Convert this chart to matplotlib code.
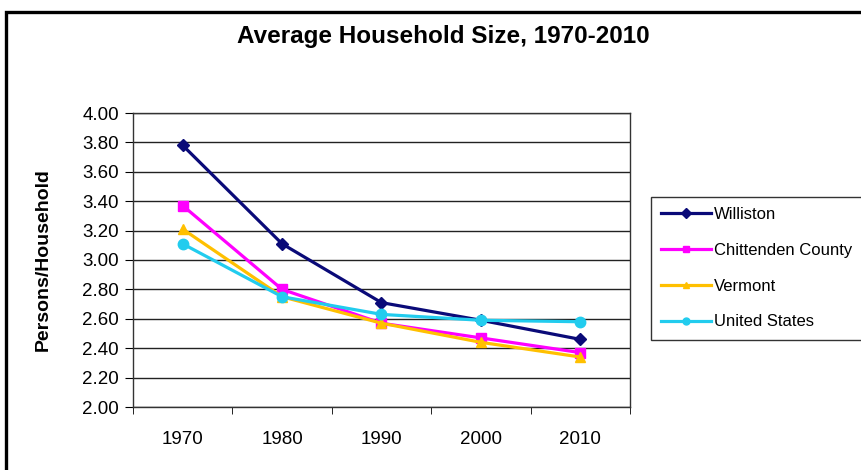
import matplotlib
matplotlib.use('Agg')
import matplotlib.pyplot as plt
from matplotlib.patches import Rectangle

# --- data ---
years = ['1970', '1980', '1990', '2000', '2010']
williston = [3.78, 3.11, 2.71, 2.59, 2.46]
chittenden = [3.37, 2.80, 2.57, 2.47, 2.37]
vermont = [3.21, 2.75, 2.57, 2.44, 2.34]
united_states = [3.11, 2.75, 2.63, 2.59, 2.58]
yticks = [2.00, 2.20, 2.40, 2.60, 2.80, 3.00, 3.20, 3.40, 3.60, 3.80, 4.00]

plt.rcParams['font.family'] = ['Liberation Sans', 'DejaVu Sans']

fig = plt.figure(figsize=(8.62, 4.70), dpi=100)
W, H = 862, 470

# outer chart border (extends past the image on right/bottom)
fig.patches.append(Rectangle((6 / W, -0.1), 1.2, 1 - 12 / H + 0.1,
                             transform=fig.transFigure, fill=False,
                             edgecolor='black', linewidth=2.4))

ax = fig.add_axes([133 / W, 1 - 407 / H, 497 / W, 294 / H])

x = list(range(len(years)))
series = [
    ('Williston', williston, '#0A0A78', 'D', 6.5),
    ('Chittenden County', chittenden, '#FF00FF', 's', 7.5),
    ('Vermont', vermont, '#FFC000', '^', 7.5),
    ('United States', united_states, '#22CCEE', 'o', 7.5),
]
for name, vals, col, mk, ms in series:
    ax.plot(x, vals, color=col, marker=mk, markersize=ms, linewidth=2.3,
            label=name, clip_on=False)

ax.set_xlim(-0.5, len(years) - 0.5)
ax.set_ylim(2.0, 4.0)
ax.set_yticks(yticks)
ax.set_yticklabels([f'{v:.2f}' for v in yticks], fontsize=13.5)
ax.set_xticks(x)
ax.set_xticklabels(years, fontsize=13.5)
ax.set_xticks([i - 0.5 for i in range(len(years) + 1)], minor=True)
ax.tick_params(axis='x', which='major', length=0, pad=17)
ax.tick_params(axis='x', which='minor', length=5, direction='out')
ax.tick_params(axis='y', length=6, direction='out', pad=4)
ax.grid(axis='y', color='#222222', linewidth=1.0)
ax.set_axisbelow(True)
for s in ax.spines.values():
    s.set_color('#333333')
    s.set_linewidth(1.0)

fig.text(43 / W, 1 - 260 / H, 'Persons/Household', rotation=90,
         ha='center', va='center', fontsize=14, fontweight='bold')

fig.text(443 / W, 1 - 36 / H, 'Average Household Size, 1970-2010',
         ha='center', va='center', fontsize=17.5, fontweight='bold')

leg = fig.legend(loc='upper left', bbox_to_anchor=(651 / W, 1 - 197 / H),
                 fontsize=12, frameon=True, fancybox=False,
                 handlelength=3.0, handletextpad=0.2, labelspacing=1.25,
                 borderpad=0.6, borderaxespad=0)
leg.get_frame().set_edgecolor('black')
leg.get_frame().set_linewidth(1.0)
for h in leg.legend_handles:
    h.set_markersize(5)

fig.savefig('out.png', dpi=100)
